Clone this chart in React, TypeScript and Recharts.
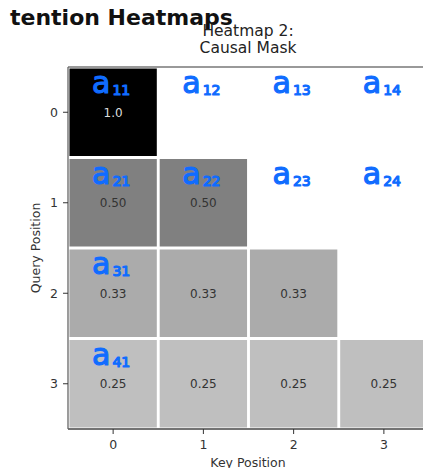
import React from "react";
import { ScatterChart, Scatter, XAxis, YAxis, ReferenceArea, ReferenceLine } from "recharts";

// Key (column) and query (row) positions
const keyPositions = [0, 1, 2, 3];
const queryPositions = [0, 1, 2, 3];

// Causal-mask attention weights, one array per query row
const row0Weights = [1.0, 0, 0, 0];
const row1Weights = [0.5, 0.5, 0, 0];
const row2Weights = [0.33, 0.33, 0.33, 0];
const row3Weights = [0.25, 0.25, 0.25, 0.25];
const weightRows = [row0Weights, row1Weights, row2Weights, row3Weights];

// Cells carrying a handwritten a_ij note: [row, col]
const notedCells: [number, number][] = [
  [0, 0], [0, 1], [0, 2], [0, 3],
  [1, 0], [1, 1], [1, 2], [1, 3],
  [2, 0],
  [3, 0],
];

const FONT = "DejaVu Sans";
const GAP = 0.016;
const INK = "#106cff";

const greyFor = (v: number) => {
  const g = Math.round(255 * (1 - v));
  return `rgb(${g},${g},${g})`;
};
const fmt = (v: number) => (v === 1 ? "1.0" : v.toFixed(2));

const notes = notedCells.map(([r, c]) => ({ row: r, col: c, sub: `${r + 1}${c + 1}` }));

const NoteShape = (props: any) => {
  const { cx, cy, payload } = props;
  if (cx == null || cy == null) return null;
  return (
    <text
      x={cx - 2}
      y={cy - 19}
      textAnchor="middle"
      fill={INK}
      stroke={INK}
      strokeWidth={1.2}
      strokeLinejoin="round"
      fontFamily={FONT}
    >
      <tspan fontSize={30}>a</tspan>
      <tspan fontSize={14} dx={2} dy={2}>{payload.sub}</tspan>
    </text>
  );
};

export default function App() {
  const cells: { r: number; c: number; v: number }[] = [];
  weightRows.forEach((row, r) => row.forEach((v, c) => cells.push({ r, c, v })));

  return (
    <div style={{ position: "fixed", left: 0, top: 0, width: 423, height: 468, overflow: "hidden", background: "#fff" }}>
      <ScatterChart width={440} height={468} margin={{ top: 67, right: 11, left: 28, bottom: 9 }}>
        <XAxis
          type="number"
          dataKey="col"
          domain={[-0.5, 3.5]}
          ticks={keyPositions}
          height={30}
          tickSize={5}
          tickMargin={6}
          tick={{ fill: "#333", fontSize: 12.5, fontFamily: FONT }}
          tickLine={{ stroke: "#333" }}
          axisLine={{ stroke: "#444", strokeWidth: 1.3 }}
          allowDataOverflow
        />
        <YAxis
          type="number"
          dataKey="row"
          domain={[-0.5, 3.5]}
          ticks={queryPositions}
          reversed
          width={40}
          tickSize={5}
          tickMargin={5}
          tick={{ fill: "#333", fontSize: 12.5, fontFamily: FONT }}
          tickLine={{ stroke: "#333" }}
          axisLine={{ stroke: "#666", strokeWidth: 1.3 }}
          allowDataOverflow
        />
        {cells.map(({ r, c, v }) => (
          <ReferenceArea
            key={`${r}-${c}`}
            x1={c - 0.5 + GAP}
            x2={c + 0.5 - GAP}
            y1={r - 0.5 + GAP}
            y2={r + 0.5 - GAP}
            fill={greyFor(v)}
            fillOpacity={1}
            stroke="none"
            ifOverflow="visible"
            label={
              v > 0
                ? { value: fmt(v), position: "center", fill: v > 0.7 ? "#ddd" : "#333", fontSize: 12, fontFamily: FONT }
                : undefined
            }
          />
        ))}
        <ReferenceLine y={-0.5} stroke="#777" strokeWidth={1.3} ifOverflow="visible" />
        <ReferenceLine x={3.5} stroke="#777" strokeWidth={1.3} ifOverflow="visible" />
        <Scatter data={notes} shape={<NoteShape />} isAnimationActive={false} />
      </ScatterChart>
      <svg
        width={423}
        height={468}
        style={{ position: "absolute", left: 0, top: 0, pointerEvents: "none" }}
      >
        <text x={10} y={25} fontFamily={FONT} fontWeight="bold" fontSize={22} fill="#111">
          tention Heatmaps
        </text>
        <text x={248} y={36} textAnchor="middle" fontFamily={FONT} fontSize={15.5} fill="#222">
          Heatmap 2:
        </text>
        <text x={248} y={53} textAnchor="middle" fontFamily={FONT} fontSize={15.5} fill="#222">
          Causal Mask
        </text>
        <text
          x={40}
          y={248}
          textAnchor="middle"
          transform="rotate(-90 40 248)"
          fontFamily={FONT}
          fontSize={12.5}
          fill="#333"
        >
          Query Position
        </text>
        <text x={248} y={467} textAnchor="middle" fontFamily={FONT} fontSize={12.5} fill="#333">
          Key Position
        </text>
      </svg>
    </div>
  );
}
